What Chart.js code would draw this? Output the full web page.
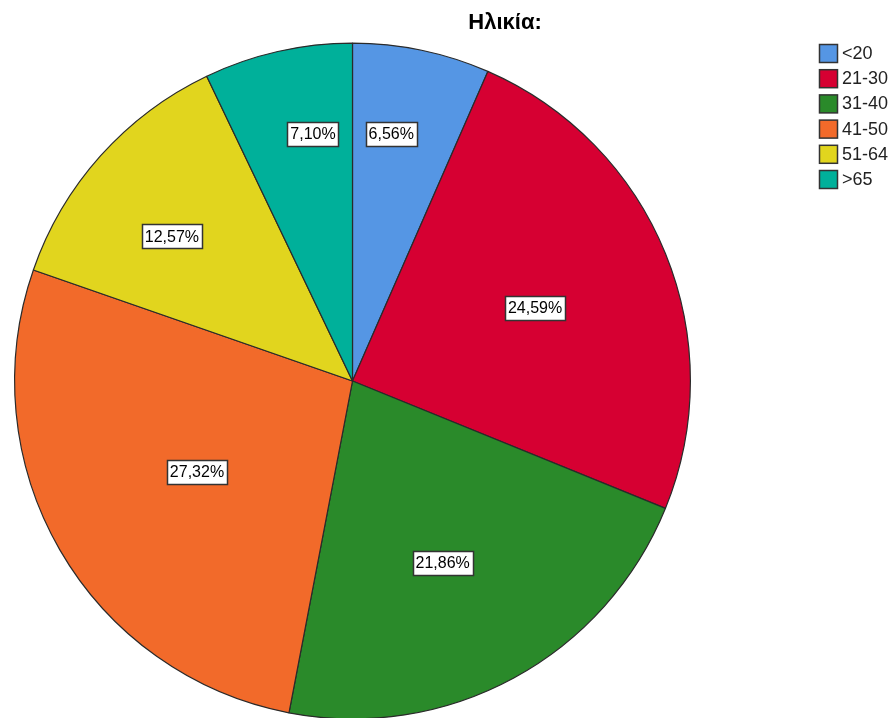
<!DOCTYPE html>
<html>
<head>
<meta charset="utf-8">
<script src="https://cdn.jsdelivr.net/npm/chart.js@4.4.1/dist/chart.umd.min.js"></script>
<style>
html,body{margin:0;padding:0;background:#fff;overflow:hidden;}
canvas{display:block;}
</style>
</head>
<body>
<canvas id="c" width="893" height="724"></canvas>
<script>
const chartTitle = "Ηλικία:";
const categories = ["<20", "21-30", "31-40", "41-50", "51-64", ">65"];
const percentages = [6.56, 24.59, 21.86, 27.32, 12.57, 7.10];
const percentLabels = ["6,56%", "24,59%", "21,86%", "27,32%", "12,57%", "7,10%"];

const sliceColors = ["#5596E4", "#D60032", "#2A8A2A", "#F26A2A", "#E1D51E", "#00B09A"];
const labelRadiusFrac = [0.74, 0.582, 0.60, 0.533, 0.685, 0.74];
const labelAngleShiftDeg = [-2.9, 0.3, 2.1, -0.3, -3.1, 3.7];

const overlay = {
  id: 'overlay',
  afterDraw(chart) {
    const ctx = chart.ctx;
    const meta = chart.getDatasetMeta(0);
    ctx.save();
    // slice labels
    ctx.font = '16px "Liberation Sans", Arial, sans-serif';
    ctx.textAlign = 'center';
    ctx.textBaseline = 'middle';
    meta.data.forEach((arc, i) => {
      const p = arc.getProps(['x','y','startAngle','endAngle','outerRadius'], true);
      const mid = (p.startAngle + p.endAngle) / 2 + labelAngleShiftDeg[i] * Math.PI / 180;
      const r = p.outerRadius * labelRadiusFrac[i];
      const x = p.x + Math.cos(mid) * r;
      const y = p.y + Math.sin(mid) * r;
      const txt = percentLabels[i];
      const w = ctx.measureText(txt).width + 6;
      const h = 24;
      ctx.fillStyle = '#fff';
      ctx.fillRect(Math.round(x - w/2) + 0.5, Math.round(y - h/2) + 0.5, Math.round(w), h);
      ctx.strokeStyle = '#333';
      ctx.lineWidth = 1.5;
      ctx.strokeRect(Math.round(x - w/2) + 0.5, Math.round(y - h/2) + 0.5, Math.round(w), h);
      ctx.fillStyle = '#000';
      ctx.fillText(txt, x, y + 1);
    });
    // title
    ctx.font = 'bold 22px "Liberation Sans", Arial, sans-serif';
    ctx.textAlign = 'center';
    ctx.textBaseline = 'middle';
    ctx.fillStyle = '#000';
    ctx.fillText(chartTitle, 505, 23);
    // legend
    ctx.font = '18px "Liberation Sans", Arial, sans-serif';
    ctx.textAlign = 'left';
    categories.forEach((c, i) => {
      const y = 44 + i * 25.2;
      ctx.fillStyle = sliceColors[i];
      ctx.fillRect(819.5, y + 0.5, 18, 18);
      ctx.strokeStyle = '#333';
      ctx.lineWidth = 1.5;
      ctx.strokeRect(819.5, y + 0.5, 18, 18);
      ctx.fillStyle = '#222';
      ctx.fillText(c, 842, y + 10);
    });
    ctx.restore();
  }
};

new Chart(document.getElementById('c'), {
  type: 'pie',
  data: {
    labels: categories,
    datasets: [{
      data: percentages,
      backgroundColor: sliceColors,
      borderColor: '#2a2a2a',
      borderWidth: 1.2,
      borderAlign: 'center'
    }]
  },
  options: {
    responsive: false,
    animation: false,
    rotation: 0,
    layout: { padding: { left: 14, right: 202, top: 42, bottom: 4 } },
    plugins: {
      legend: { display: false },
      title: { display: false },
      tooltip: { enabled: false }
    }
  },
  plugins: [overlay]
});
</script>
</body>
</html>
